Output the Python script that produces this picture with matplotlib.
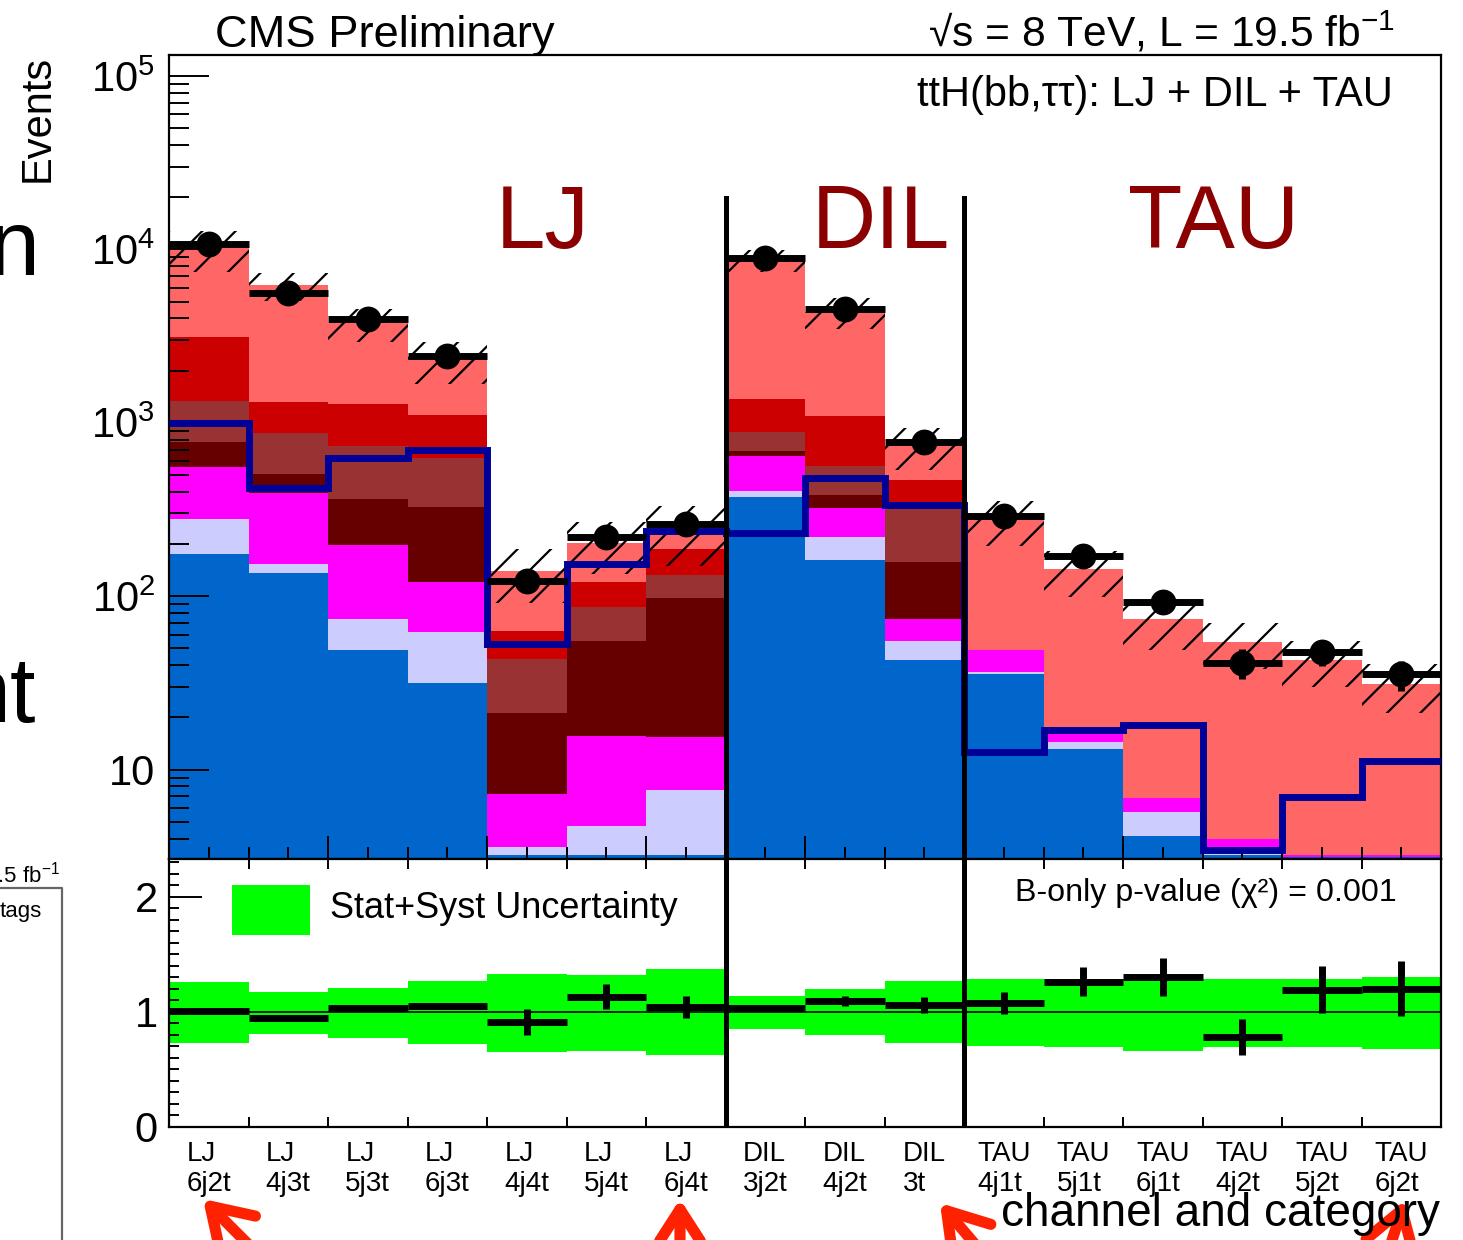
import numpy as np
import matplotlib
matplotlib.use('Agg')
import matplotlib.pyplot as plt
from matplotlib.patches import Rectangle, FancyArrowPatch
from matplotlib.lines import Line2D
from matplotlib.ticker import MultipleLocator, LogLocator, FuncFormatter, NullFormatter

plt.rcParams['font.family'] = ['Liberation Sans', 'DejaVu Sans']
plt.rcParams['mathtext.fontset'] = 'custom'
plt.rcParams['mathtext.rm'] = 'Liberation Sans'
plt.rcParams['mathtext.it'] = 'Liberation Sans:italic'
plt.rcParams['mathtext.bf'] = 'Liberation Sans:bold'
plt.rcParams['hatch.linewidth'] = 0.8

# categories
channels = ['LJ'] * 7 + ['DIL'] * 3 + ['TAU'] * 6
categories = ['6j2t', '4j3t', '5j3t', '6j3t', '4j4t', '5j4t', '6j4t',
              '3j2t', '4j2t', '3t',
              '4j1t', '5j1t', '6j1t', '4j2t', '5j2t', '6j2t']

# background components, bottom of the stack first
bkg_blue = [175, 136, 49, 31.5, 3.2, 3.2, 3.2, 373, 161, 42.8, 35.5, 13.2, 4.15, 3.2, 3.15, 3.15]
bkg_lavender = [103, 17, 25, 30.5, 0.4, 1.5, 4.4, 30, 59, 12.2, 1.1, 1.3, 1.56, 0.1, 0, 0]
bkg_magenta = [277, 241, 122, 59, 3.6, 11, 7.9, 241, 104, 18.6, 12.3, 1.5, 1.11, 0.7, 0.05, 0.05]
bkg_maroon = [217, 111, 166, 206, 13.9, 39.5, 82.2, 44, 58, 84.4, 0, 0, 0, 0, 0, 0]
bkg_brown = [559, 368, 371, 295, 22.1, 31.5, 34.3, 197, 179, 172, 0, 0, 0, 0, 0, 0]
bkg_red = [1779, 452, 547, 483, 19.6, 34.3, 55, 493, 528, 136, 0, 0, 0, 0, 0, 0]
bkg_salmon = [7030, 4865, 2480, 1195, 77.2, 82, 53, 7272, 3261, 267, 228, 126.6, 67.5, 50.6, 39.6, 27.8]

signal = [993, 418, 624, 695, 53.3, 154, 237, 230, 477, 335, 12.7, 16.9, 18.0, 3.45, 6.97, 11.2]
data = [10700, 5600, 3940, 2420, 122, 218, 260, 8960, 4550, 774, 289, 170, 92, 41.3, 47.8, 35.4]

# ratio panel
ratio = [1.009, 0.945, 1.037, 1.05, 0.913, 1.133, 1.043, 1.037, 1.096, 1.058,
         1.081, 1.263, 1.304, 0.783, 1.194, 1.203]
ratio_err = [0.012, 0.015, 0.02, 0.025, 0.116, 0.109, 0.098, 0.012, 0.04, 0.07,
             0.095, 0.127, 0.167, 0.156, 0.207, 0.237]
band_up = [1.261, 1.174, 1.209, 1.270, 1.328, 1.322, 1.374, 1.139, 1.203, 1.270,
           1.284, 1.284, 1.284, 1.284, 1.284, 1.304]
band_down = [0.733, 0.811, 0.777, 0.724, 0.655, 0.661, 0.623, 0.855, 0.797, 0.733,
             0.704, 0.698, 0.661, 0.696, 0.696, 0.681]

components = [bkg_blue, bkg_lavender, bkg_magenta, bkg_maroon, bkg_brown, bkg_red, bkg_salmon]
comp_colors = ['#0066CC', '#CCCCFF', '#FF00FF', '#660000', '#993333', '#CC0000', '#FF6666']

W, H = 1463, 1240
fig = plt.figure(figsize=(W / 200, H / 200), dpi=200)
ax = fig.add_axes([169 / W, 1 - 859 / H, 1272 / W, 804 / H])
axr = fig.add_axes([169 / W, 1 - 1127 / H, 1272 / W, 268 / H])

nbins = len(categories)
edges = np.arange(nbins + 1)
centers = edges[:-1] + 0.5

# --- upper panel ---
ax.set_yscale('log')
cum = np.cumsum(np.array(components, dtype=float), axis=0)
# draw cumulative totals from the top down, each filled to the bottom
for top, c in zip(cum[::-1], comp_colors[::-1]):
    ax.stairs(top, edges, baseline=0, fill=True, color=c, lw=0)
total = cum[-1]

ax.stairs(total * np.array(band_up), edges, baseline=total * np.array(band_down),
          fill=True, facecolor='none', edgecolor='black', hatch='//', lw=0, zorder=3)
ax.stairs(signal, edges, baseline=None, color='#000099', lw=2.5, zorder=4)

data = np.array(data)
data_err = data * np.array(ratio_err) / np.array(ratio)
ax.errorbar(centers, data, xerr=0.5, yerr=data_err, fmt='o', color='black',
            ms=8.3, elinewidth=2.5, capsize=0, zorder=6)

for sep in (7, 10):
    ax.axvline(sep, ymax=0.822, color='black', lw=1.8, zorder=5)

ax.set_xlim(0, nbins)
ax.set_ylim(3.05, 1.32e5)
ax.xaxis.set_major_locator(MultipleLocator(2))
ax.xaxis.set_minor_locator(MultipleLocator(0.5))
ax.tick_params(axis='x', which='major', direction='in', length=8.3, width=0.7,
               labelbottom=False, top=False)
ax.tick_params(axis='x', which='minor', direction='in', length=4.3, width=0.7, top=False)
ax.yaxis.set_major_locator(LogLocator(base=10, numticks=20))
ax.yaxis.set_minor_locator(LogLocator(base=10, subs=np.arange(2, 10), numticks=50))
ax.yaxis.set_major_formatter(FuncFormatter(
    lambda v, pos: '10' if round(np.log10(v)) == 1 else rf'$10^{{{int(round(np.log10(v)))}}}$'))
ax.yaxis.set_minor_formatter(NullFormatter())
ax.tick_params(axis='y', which='major', direction='in', length=14.4, width=0.7,
               right=False, labelsize=15, pad=5)
ax.tick_params(axis='y', which='minor', direction='in', length=7.2, width=0.7, right=False)
for s in ax.spines.values():
    s.set_linewidth(0.8)

sec_color = '#8B0000'
for lab, xpix in (('LJ', 543), ('DIL', 881), ('TAU', 1214)):
    ax.text(xpix / W, 1 - 248 / H, lab, transform=fig.transFigure, color=sec_color,
            fontsize=32, ha='center', va='baseline', zorder=7)

ax.text(0.962, 0.95, 'ttH(bb,ττ): LJ + DIL + TAU', transform=ax.transAxes,
        fontsize=15, ha='right', va='center')

# --- ratio panel ---
axr.stairs(band_up, edges, baseline=band_down, fill=True, color='#00FF00', lw=0)
axr.axhline(1, color='black', lw=0.6, zorder=3)
axr.errorbar(centers, ratio, xerr=0.5, yerr=ratio_err, fmt='none', ecolor='black',
             elinewidth=2.5, capsize=0, zorder=5)
for sep in (7, 10):
    axr.axvline(sep, color='black', lw=1.8, zorder=6)

axr.set_xlim(0, nbins)
axr.set_ylim(0, 2.33)
axr.set_xticks(centers, [f'{ch}\n{cat}' for ch, cat in zip(channels, categories)])
for t in axr.get_xticklabels():
    t.set_multialignment('left')
axr.xaxis.set_minor_locator(MultipleLocator(1))
axr.tick_params(axis='x', which='major', length=0, labelsize=10, pad=5)
axr.tick_params(axis='x', which='minor', direction='in', length=3.6, width=0.7,
                top=True, bottom=True)
axr.yaxis.set_major_locator(MultipleLocator(1))
axr.yaxis.set_minor_locator(MultipleLocator(0.1))
axr.tick_params(axis='y', which='major', direction='in', length=12, width=0.7,
                labelsize=15, pad=4)
axr.tick_params(axis='y', which='minor', direction='in', length=3.6, width=0.7)
for s in axr.spines.values():
    s.set_linewidth(0.8)

axr.add_patch(Rectangle((0.0495, 0.716), 0.0613, 0.187, transform=axr.transAxes,
                        facecolor='#00FF00', edgecolor='none', zorder=4))
axr.text(0.1266, 0.817, 'Stat+Syst Uncertainty', transform=axr.transAxes,
         fontsize=13, ha='left', va='center')
axr.text(0.9654, 0.873, 'B-only p-value (χ²) = 0.001', transform=axr.transAxes,
         fontsize=11.6, ha='right', va='center')

# --- figure texts ---
fig.text(215 / W, 1 - 47 / H, 'CMS Preliminary', fontsize=16.3, ha='left', va='baseline')
fig.text(1395 / W, 1 - 47 / H, r'√s = 8 TeV, L = 19.5 fb$^{-1}$', fontsize=15.3,
         ha='right', va='baseline')
fig.text(38 / W, 1 - 118 / H, 'Events', rotation=90, fontsize=15, ha='center', va='center')
fig.text(1440 / W, 1 - 1226 / H, 'channel and category', fontsize=16.5,
         ha='right', va='baseline')

# slide fragments on the left edge
fig.text(40 / W, 1 - 275 / H, 'n', fontsize=33, ha='right', va='baseline')
fig.text(36 / W, 1 - 722 / H, 'nt', fontsize=33, ha='right', va='baseline')
fig.text(60 / W, 1 - 883 / H, r'19.5 fb$^{-1}$', fontsize=8, ha='right', va='baseline')
fig.text(0, 1 - 917 / H, 'tags', fontsize=8, ha='left', va='baseline')
fig.add_artist(Line2D([0, 62 / W, 62 / W], [1 - 888 / H, 1 - 888 / H, 0],
                      transform=fig.transFigure, color='#666666', lw=0.8))

# red arrows
arrows = [((262, 1258), (203, 1199)), ((680, 1262), (680, 1199)),
          ((990, 1262), (940, 1203)), ((1385, 1262), (1405, 1200))]
for (x0, y0), (x1, y1) in arrows:
    fig.add_artist(FancyArrowPatch((x0 / W, 1 - y0 / H), (x1 / W, 1 - y1 / H),
                                   transform=fig.transFigure,
                                   arrowstyle='->,head_length=0.7,head_width=0.45',
                                   mutation_scale=20, color='#FF2200', lw=4,
                                   capstyle='round', joinstyle='round',
                                   shrinkA=0, shrinkB=0))

fig.savefig('out.png', dpi=200)
